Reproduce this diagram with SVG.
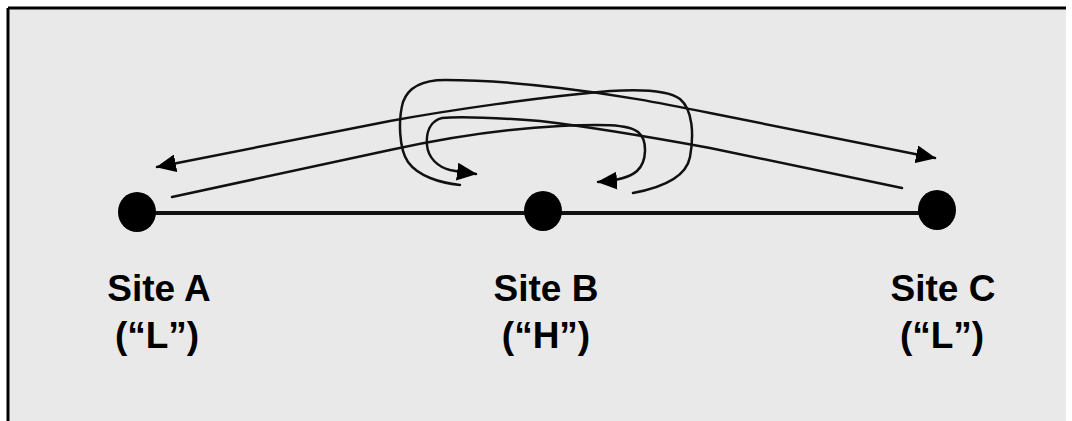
<svg xmlns="http://www.w3.org/2000/svg" width="1072" height="421" viewBox="0 0 1072 421">
  <style>
    .lbl { font-family: "Liberation Sans", Arial, sans-serif; font-weight: bold; font-size: 37px; fill: #000; text-anchor: middle; }
    .flow { fill: none; stroke: #111; stroke-width: 2.5; stroke-linecap: round; }
    .dot { fill: #000; }
  </style>
  <defs>
    <marker id="ah" markerUnits="userSpaceOnUse" viewBox="0 0 20 18" markerWidth="20" markerHeight="18" refX="19" refY="9" orient="auto">
      <path d="M0,0 L20,9 L0,18 z" fill="#000"/>
    </marker>
  </defs>

  <rect x="0" y="0" width="1072" height="421" fill="#ffffff"/>
  <rect x="8" y="8" width="1058" height="413" fill="#e9e9e9"/>
  <line x1="8" y1="8" x2="1066" y2="8" stroke="#000" stroke-width="3"/>
  <line x1="8" y1="8" x2="8" y2="421" stroke="#000" stroke-width="3"/>

  <g id="connectors">
    <line id="link-a-c" x1="138" y1="213" x2="938" y2="213" stroke="#111" stroke-width="4"/>
    <path id="a-to-b" class="flow" marker-end="url(#ah)" d="M172,197 L390,150 C440,139 500,129 560,126 C600,124 628,124 638,132 C648,140 647,162 637,171 C628,179 612,181 598,182"/>
    <path id="c-to-b" class="flow" marker-end="url(#ah)" d="M902,188 L710,148 C650,137 600,128 540,121 C500,118 460,116 442,118 C430,121 426,132 427,145 C428,158 438,167 450,170 C460,172 468,173 476,174"/>
    <path id="b-to-c" class="flow" marker-end="url(#ah)" d="M460,185 C440,183 418,176 408,162 C399,149 398,120 403,102 C408,88 422,80 445,80 C480,80 520,83 560,88 C620,95 660,103 710,113 L935,158"/>
    <path id="b-to-a" class="flow" marker-end="url(#ah)" d="M633,193 C660,188 686,178 690,157 C694,135 693,110 680,99 C668,90 640,89 610,91 C540,97 450,110 390,121 L157,167"/>
  </g>

  <g id="site-a">
    <ellipse class="dot" cx="137" cy="212" rx="19" ry="20"/>
    <text class="lbl" x="159" y="301">Site A</text>
    <text class="lbl" x="157" y="348">(“L”)</text>
  </g>
  <g id="site-b">
    <ellipse class="dot" cx="543" cy="211" rx="19" ry="20"/>
    <text class="lbl" x="546" y="301">Site B</text>
    <text class="lbl" x="546" y="348">(“H”)</text>
  </g>
  <g id="site-c">
    <ellipse class="dot" cx="937" cy="210" rx="19" ry="20"/>
    <text class="lbl" x="943" y="301">Site C</text>
    <text class="lbl" x="942" y="348">(“L”)</text>
  </g>
</svg>
